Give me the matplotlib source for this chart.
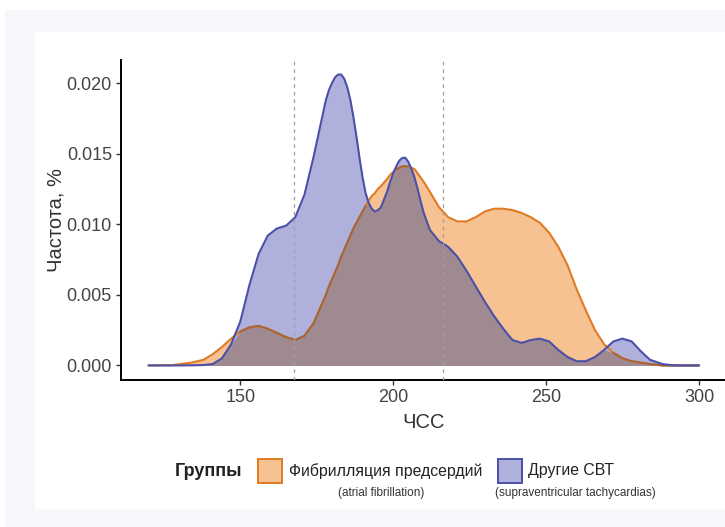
import numpy as np
import matplotlib
matplotlib.use("Agg")
import matplotlib.pyplot as plt
from matplotlib.patches import Rectangle

plt.rcParams["font.family"] = ["Liberation Sans", "DejaVu Sans"]

# heart rate grid and density of each group
hr = [120, 128, 134, 138, 141, 144, 147, 150, 153, 156, 159, 162, 165, 168,
      171, 174,
      176, 177, 178, 179, 180, 181, 182, 183, 184, 185, 186, 187, 188, 189,
      190, 191, 192, 193, 194, 195, 196,
      198,
      199, 200, 201, 202, 203, 204, 205, 206, 207, 208, 209, 210,
      212, 215, 218, 221, 224, 227, 230, 233, 236, 239, 242, 245, 248, 251,
      254, 257, 260, 263, 266, 269, 272, 275, 278, 281, 284, 288, 292, 296,
      300]

dens_af = [0.0, 0.00003, 0.0002, 0.0004, 0.0008, 0.0013, 0.0019, 0.0024,
           0.0027, 0.0028, 0.0026, 0.0023, 0.0020, 0.0018, 0.0021, 0.0030,
           0.0040, 0.0045, 0.0050, 0.0056, 0.0061, 0.0066, 0.0071, 0.0077,
           0.0082, 0.0087, 0.0092, 0.0097, 0.0101, 0.0105, 0.0109, 0.0113,
           0.0117, 0.0120, 0.0122, 0.0125, 0.0127,
           0.0132,
           0.0135, 0.0137, 0.0139, 0.0140, 0.0141, 0.0141, 0.0141, 0.0140,
           0.0139, 0.0136, 0.0133, 0.0130,
           0.0123, 0.0112, 0.0105, 0.0102, 0.0102, 0.0105, 0.0109, 0.0111,
           0.0111, 0.0110, 0.0108, 0.0105, 0.0101, 0.0094, 0.0084, 0.0071,
           0.0054, 0.0039, 0.0025, 0.0015, 0.0009, 0.0005, 0.0003, 0.0002,
           0.0001, 0.0, 0.0, 0.0, 0.0]

dens_svt = [0.0, 0.0, 0.00001, 0.00003, 0.0001, 0.0005, 0.0015, 0.0031,
            0.0057, 0.0079, 0.0092, 0.0097, 0.0099, 0.0105, 0.0121, 0.0148,
            0.0168, 0.0178, 0.0188, 0.0195, 0.0200, 0.0204, 0.0206, 0.0206,
            0.0203, 0.0197, 0.0188, 0.0176, 0.0162, 0.0147, 0.0133, 0.0122,
            0.0115, 0.0111, 0.0109, 0.0110, 0.0112,
            0.0123,
            0.0130, 0.0136, 0.0141, 0.0145, 0.0147, 0.0147, 0.0144, 0.0139,
            0.0133, 0.0125, 0.0116, 0.0108,
            0.0096, 0.0088, 0.0084, 0.0077, 0.0067, 0.0056, 0.0045, 0.0035,
            0.0026, 0.0018, 0.0016, 0.0018, 0.0019, 0.0017, 0.0011, 0.0006,
            0.0003, 0.0003, 0.0006, 0.0011, 0.0017, 0.0019, 0.0017, 0.0010,
            0.0004, 0.0001, 0.0, 0.0, 0.0]

cutoffs = [167.5, 216.3]
x_ticks = [150, 200, 250, 300]
y_ticks = [0.000, 0.005, 0.010, 0.015, 0.020]

group_names = ["Фибрилляция предсердий", "Другие СВТ"]
group_notes = ["(atrial fibrillation)", "(supraventricular tachycardias)"]

W, H = 725, 527
fig = plt.figure(figsize=(W / 100, H / 100), dpi=100)
fig.patch.set_facecolor("white")


def fx(px):
    return px / W


def fy(py):
    return 1 - py / H


# page background and white card
fig.add_artist(Rectangle((fx(5), fy(527)), fx(720), 517 / H,
                         transform=fig.transFigure, color="#f6f7fb", lw=0, zorder=-10))
fig.add_artist(Rectangle((fx(35), fy(509)), fx(690), 477 / H,
                         transform=fig.transFigure, color="white", lw=0, zorder=-9))

ax = fig.add_axes([fx(121), fy(380), (726.5 - 121) / W, 320 / H])
ax.set_facecolor("none")

x = np.array(hr)
a = np.array(dens_af)
b = np.array(dens_svt)
both = np.minimum(a, b)

c_af_fill, c_af_line = "#f7c292", "#e07b24"
c_svt_fill, c_svt_line = "#afb1dc", "#4b50a8"
c_both = "#a08a92"

ax.fill_between(x, 0, a, color=c_af_fill, lw=0, zorder=1)
ax.fill_between(x, 0, b, color=c_svt_fill, lw=0, zorder=1)
ax.fill_between(x, 0, both, color=c_both, lw=0, zorder=2)

line_kw = dict(lw=1.5, solid_joinstyle="round", solid_capstyle="round")
ax.plot(x, a, color=c_af_line, zorder=3, **line_kw)
a_under = np.ma.masked_where(b < a, a)
ax.plot(x, a_under, color="#a4663c", zorder=3, **line_kw)
ax.plot(x, b, color=c_svt_line, zorder=4, **line_kw)

for c in cutoffs:
    ax.axvline(c, color="#a0a0a0", lw=0.9, ls=(0, (3, 3)), zorder=5)

ax.set_xlim(111, 309)
ax.set_ylim(-0.00103, 0.02163)
ax.set_xticks(x_ticks)
ax.set_yticks(y_ticks)
ax.set_yticklabels([f"{v:.3f}" for v in y_ticks])

for s in ["top", "right"]:
    ax.spines[s].set_visible(False)
for s in ["left", "bottom"]:
    ax.spines[s].set_linewidth(1.4)
    ax.spines[s].set_color("black")

ax.tick_params(axis="both", length=3.5, width=1.0, color="#333333",
               labelsize=13, labelcolor="#444444", pad=3)

ax.set_xlabel("ЧСС", fontsize=14.5, color="#333333", labelpad=5)
ax.set_ylabel("Частота, %", fontsize=14.5, color="#333333", labelpad=1)

# legend drawn below the panel
row_y = 471
fig.text(fx(175), fy(row_y), "Группы", fontsize=13, fontweight="bold",
         ha="left", va="center", color="#222222")

legend_items = [
    (258, 289, 381, c_af_fill, c_af_line),
    (498, 528, 575, c_svt_fill, c_svt_line),
]
for (px, tx, nx, fill, edge), name, note in zip(legend_items, group_names, group_notes):
    fig.add_artist(Rectangle((fx(px), fy(row_y + 12)), fx(24), 24 / H,
                             transform=fig.transFigure, facecolor=fill,
                             edgecolor=edge, lw=1.4))
    fig.text(fx(tx), fy(row_y), name, fontsize=11.4, ha="left", va="center",
             color="#222222")
    fig.text(fx(nx), fy(row_y + 22), note, fontsize=8.5, ha="center",
             va="center", color="#333333")

fig.savefig("out.png", dpi=100)
